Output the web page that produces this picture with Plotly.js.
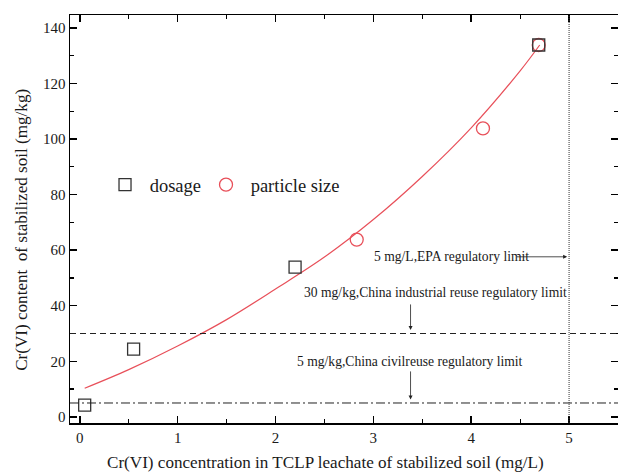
<!DOCTYPE html>
<html>
<head>
<meta charset="utf-8">
<script src="https://cdn.plot.ly/plotly-3.0.1.min.js"></script>
<style>html,body{margin:0;padding:0;background:#fff;}#chart{width:618px;height:472px;}</style>
</head>
<body>
<div id="chart"></div>
<script>
// data
const dosageX = [0.05, 0.55, 2.2, 4.69];
const dosageY = [4.2, 24.4, 53.9, 133.8];
const particleX = [2.83, 4.12, 4.69];
const particleY = [63.8, 103.8, 133.8];
const fitX = [0.05, 0.5, 1.0, 1.5, 2.0, 2.5, 3.0, 3.5, 4.0, 4.5, 4.7];
const fitY = [10.3, 17.0, 25.5, 35.0, 46.0, 57.5, 71.0, 86.5, 104.0, 124.5, 133.8];
const xTicks = [0, 1, 2, 3, 4, 5];
const yTicks = [0, 20, 40, 60, 80, 100, 120, 140];
const industrialLimit = [30];
const civilLimit = [5];
const epaLimit = [5];
const labels = [
  "5 mg/L,EPA regulatory limit",
  "30 mg/kg,China industrial reuse regulatory limit",
  "5 mg/kg,China civilreuse regulatory limit"
];
const xTitle = "Cr(VI) concentration in TCLP leachate of stabilized soil (mg/L)";
const yTitle = "Cr(VI) content\u00a0 of stabilized soil (mg/kg)";

const FONT = "Liberation Serif, Times New Roman, serif";
const red = "#e8505a";
const ink = "#1a1a1a";

const traces = [
  {x: fitX, y: fitY, mode: "lines", line: {color: red, width: 1.2, shape: "spline"}, showlegend: false, hoverinfo: "skip"},
  {x: particleX, y: particleY, mode: "markers", name: "\u00a0particle size", legendrank: 2,
   marker: {symbol: "circle-open", size: 13, color: red, line: {width: 1.3, color: red}}},
  {x: dosageX, y: dosageY, mode: "markers", name: "\u00a0dosage", legendrank: 1,
   marker: {symbol: "square-open", size: 12, color: "#333", line: {width: 1.3, color: "#333"}}}
];

const axisCommon = {
  showline: true, linecolor: "#000", linewidth: 1.5, mirror: "ticks",
  ticks: "inside", ticklen: 7, tickwidth: 1.5, tickcolor: "#000",
  showgrid: false, zeroline: false,
  tickfont: {family: FONT, size: 15, color: ink}
};

const layout = {
  width: 618, height: 472,
  margin: {l: 70, r: 0, t: 15, b: 49},
  paper_bgcolor: "#fff", plot_bgcolor: "#fff",
  font: {family: FONT, color: ink},
  xaxis: Object.assign({}, axisCommon, {
    range: [-0.1, 5.5], tickvals: xTicks,
    minor: {dtick: 0.5, ticklen: 4, tickwidth: 1.2, tickcolor: "#000", ticks: "inside"}
  }),
  yaxis: Object.assign({}, axisCommon, {
    range: [-2.2, 144.6], tickvals: yTicks,
    minor: {dtick: 10, ticklen: 4, tickwidth: 1.2, tickcolor: "#000", ticks: "inside"}
  }),
  legend: {
    orientation: "h", x: 0.0639, xanchor: "left", y: 0.583, yanchor: "middle",
    bgcolor: "rgba(0,0,0,0)", font: {family: FONT, size: 18.5, color: ink},
    traceorder: "normal"
  },
  shapes: [
    {type: "line", xref: "paper", x0: 0, x1: 1, yref: "y", y0: industrialLimit[0], y1: industrialLimit[0],
     line: {color: "#222", width: 1, dash: "6px,4px"}},
    {type: "line", xref: "paper", x0: 0, x1: 1, yref: "y", y0: civilLimit[0], y1: civilLimit[0],
     line: {color: "#222", width: 1, dash: "9px,3px,2px,3px"}},
    {type: "line", xref: "x", x0: epaLimit[0], x1: epaLimit[0], yref: "paper", y0: 0, y1: 1,
     line: {color: "#333", width: 1, dash: "1px,1px"}}
  ],
  annotations: [
    {x: 2.51, y: -0.096, xref: "x", yref: "paper", text: xTitle, showarrow: false, yanchor: "middle",
     font: {family: FONT, size: 17.1, color: ink}},
    {x: -0.0876, y: 67.3, xref: "paper", yref: "y", text: yTitle, showarrow: false, textangle: -90,
     xanchor: "center", yanchor: "middle", font: {family: FONT, size: 17.1, color: ink}},
    {x: 3.80, y: 57.6, xref: "x", yref: "y", text: labels[0], showarrow: false,
     font: {family: FONT, size: 13.6, color: ink}},
    {x: epaLimit[0] - 0.02, y: 57.6, ax: 4.45, ay: 57.6, axref: "x", ayref: "y", xref: "x", yref: "y",
     text: "", showarrow: true, arrowhead: 2, arrowsize: 1, arrowwidth: 0.8, arrowcolor: "#222"},
    {x: 3.63, y: 44.6, xref: "x", yref: "y", text: labels[1], showarrow: false,
     font: {family: FONT, size: 13.6, color: ink}},
    {x: 3.38, y: industrialLimit[0] + 1.3, ax: 3.38, ay: 41, axref: "x", ayref: "y", xref: "x", yref: "y",
     text: "", showarrow: true, arrowhead: 2, arrowsize: 1, arrowwidth: 0.8, arrowcolor: "#222"},
    {x: 3.37, y: 19.8, xref: "x", yref: "y", text: labels[2], showarrow: false,
     font: {family: FONT, size: 13.6, color: ink}},
    {x: 3.38, y: civilLimit[0] + 1.3, ax: 3.38, ay: 16.9, axref: "x", ayref: "y", xref: "x", yref: "y",
     text: "", showarrow: true, arrowhead: 2, arrowsize: 1, arrowwidth: 0.8, arrowcolor: "#222"}
  ]
};

Plotly.newPlot("chart", traces, layout, {staticPlot: true, displayModeBar: false});
</script>
</body>
</html>
